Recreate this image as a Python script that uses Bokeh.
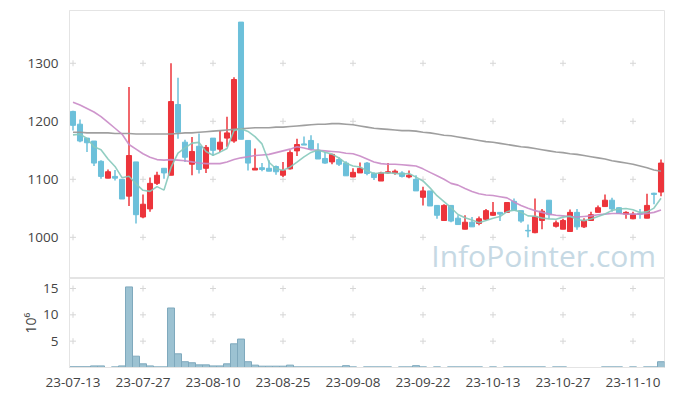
from bokeh.plotting import figure
from bokeh.layouts import column
from bokeh.models import Range1d, FixedTicker, ColumnDataSource, Label
from bokeh.embed import file_html
from bokeh.resources import INLINE

# ---- data (trading-day index 0..84) ----
opens = [1217, 1195, 1171, 1166, 1131, 1102, 1105, 1100, 1071, 1130,
         1035, 1049, 1093, 1119, 1107, 1229, 1164, 1126, 1157, 1119,
         1171, 1152, 1171, 1166, 1371, 1167, 1116, 1120, 1119, 1122,
         1107, 1118, 1149, 1161, 1167, 1150, 1136, 1130, 1134, 1128,
         1104, 1111, 1128, 1110, 1097, 1111, 1111, 1111, 1104, 1100,
         1069, 1080, 1055, 1029, 1055, 1033, 1014, 1026, 1024, 1031,
         1038, 1043, 1043, 1062, 1046, 1012, 1008, 1029, 1064, 1019,
         1014, 1010, 1043, 1018, 1029, 1043, 1053, 1064, 1051, 1040,
         1032, 1041, 1033, 1076, 1078]
highs = [1218, 1203, 1171, 1166, 1133, 1117, 1116, 1100, 1259, 1130,
         1074, 1103, 1113, 1119, 1300, 1275, 1168, 1173, 1179, 1159,
         1171, 1184, 1208, 1276, 1371, 1167, 1153, 1128, 1133, 1124,
         1130, 1150, 1170, 1174, 1176, 1162, 1147, 1144, 1138, 1131,
         1119, 1129, 1130, 1112, 1113, 1128, 1117, 1114, 1115, 1107,
         1087, 1080, 1055, 1057, 1055, 1038, 1038, 1035, 1036, 1049,
         1061, 1043, 1061, 1067, 1046, 1022, 1067, 1049, 1064, 1029,
         1032, 1048, 1049, 1033, 1044, 1055, 1074, 1068, 1052, 1045,
         1044, 1049, 1075, 1077, 1134]
lows = [1184, 1164, 1147, 1123, 1101, 1102, 1098, 1066, 1054, 1024,
        1033, 1044, 1090, 1101, 1107, 1170, 1130, 1107, 1110, 1111,
        1140, 1147, 1156, 1163, 1169, 1115, 1116, 1114, 1114, 1108,
        1104, 1117, 1140, 1159, 1150, 1135, 1127, 1126, 1123, 1106,
        1104, 1111, 1107, 1099, 1097, 1110, 1108, 1103, 1102, 1080,
        1055, 1054, 1032, 1029, 1026, 1022, 1014, 1018, 1021, 1029,
        1037, 1028, 1042, 1046, 1025, 1000, 1007, 1014, 1032, 1017,
        1014, 1010, 1013, 1016, 1029, 1043, 1053, 1044, 1041, 1032,
        1031, 1032, 1033, 1057, 1071]
closes = [1193, 1166, 1163, 1128, 1105, 1113, 1102, 1066, 1141, 1039,
          1057, 1093, 1107, 1111, 1234, 1181, 1138, 1148, 1117, 1155,
          1150, 1164, 1180, 1272, 1169, 1128, 1119, 1117, 1114, 1113,
          1115, 1146, 1160, 1159, 1152, 1135, 1128, 1143, 1126, 1106,
          1112, 1119, 1110, 1103, 1111, 1113, 1114, 1105, 1107, 1080,
          1080, 1054, 1038, 1055, 1028, 1022, 1026, 1018, 1032, 1046,
          1043, 1040, 1060, 1046, 1028, 1011, 1036, 1045, 1039, 1025,
          1029, 1043, 1018, 1029, 1039, 1051, 1064, 1049, 1041, 1043,
          1040, 1040, 1055, 1074, 1128]
pre_closes = [1160, 1200, 1200, 1130]   # closes of the 4 sessions before the window
volume_m = [0.15, 0.15, 0.15, 0.3, 0.3, 0, 0.12, 0.3, 15.3, 2.15,
            0.7, 0.3, 0.12, 0.12, 11.3, 2.6, 1.1, 0.9, 0.5, 0.5,
            0.3, 0.3, 0.7, 4.5, 5.4, 1.1, 0.45, 0.25, 0.25, 0.25,
            0.25, 0.45, 0.12, 0.12, 0.12, 0.12, 0.12, 0.12, 0.12, 0.35,
            0.12, 0, 0.12, 0.12, 0.12, 0.12, 0, 0.12, 0.12, 0.35,
            0.12, 0, 0.12, 0, 0.12, 0.12, 0.12, 0.12, 0.12, 0,
            0.12, 0, 0.12, 0.12, 0.12, 0.12, 0.12, 0.12, 0, 0.12,
            0.12, 0, 0, 0, 0, 0, 0.12, 0.12, 0.12, 0,
            0.12, 0, 0.12, 0.12, 1.1]
ma20 = [1233, 1228, 1222, 1216, 1208, 1198, 1188, 1178, 1160, 1152,
        1144, 1138, 1134, 1133, 1134, 1133, 1132, 1130, 1128, 1127,
        1127, 1127, 1130, 1134, 1137, 1139, 1141, 1142, 1143, 1146,
        1149, 1152, 1156, 1154, 1151, 1150, 1149, 1148, 1147, 1145,
        1144, 1140, 1135, 1130, 1127, 1126, 1126, 1125, 1124, 1123,
        1118, 1112, 1106, 1100, 1093, 1090, 1084, 1079, 1075, 1073,
        1072, 1070, 1068, 1061, 1055, 1050, 1046, 1043, 1040, 1038,
        1037, 1036, 1035, 1036, 1037, 1039, 1040, 1041, 1041, 1040,
        1040, 1040, 1041, 1043, 1047]
ma60 = [1181, 1181, 1180, 1180, 1180, 1180, 1179, 1179, 1179, 1178,
        1178, 1178, 1178, 1178, 1178, 1179, 1180, 1180, 1181, 1182,
        1183, 1184, 1185, 1186, 1187, 1188, 1189, 1189, 1189, 1190,
        1190, 1191, 1192, 1193, 1194, 1195, 1195, 1196, 1196, 1195,
        1194, 1192, 1190, 1188, 1187, 1186, 1185, 1184, 1184, 1183,
        1181, 1180, 1178, 1176, 1175, 1173, 1171, 1169, 1167, 1165,
        1164, 1162, 1160, 1158, 1156, 1155, 1153, 1151, 1149, 1147,
        1146, 1144, 1143, 1141, 1139, 1137, 1135, 1132, 1130, 1128,
        1126, 1123, 1120, 1116, 1114]
tick_pos = [0, 10, 20, 30, 40, 50, 60, 70, 80]
tick_labels = ["23-07-13", "23-07-27", "23-08-10", "23-08-25", "23-09-08",
               "23-09-22", "23-10-13", "23-10-27", "23-11-10"]
price_ticks = [1000, 1100, 1200, 1300]
vol_ticks = [5, 10, 15]

UP = "#ec343b"
DOWN = "#6cc0da"
FONT = "Open Sans"
LABEL_COLOR = "#444444"
BORDER = "#e4e4e4"
CROSS = "#d6d6d6"

n = len(closes)
idx = list(range(n))
colors = [UP if c >= o else DOWN for o, c in zip(opens, closes)]
series = pre_closes + closes
ma5 = [sum(series[i:i + 5]) / 5 for i in range(n)]

src = ColumnDataSource(dict(x=idx, o=opens, h=highs, l=lows, c=closes,
                            top=[max(a, b) for a, b in zip(opens, closes)],
                            bot=[min(a, b) for a, b in zip(opens, closes)],
                            color=colors, ma5=ma5, ma20=ma20, ma60=ma60))

xr = Range1d(-0.5, n - 0.5)

p = figure(width=665, height=278, x_range=xr, y_range=Range1d(929, 1391),
           output_backend="svg", toolbar_location=None,
           min_border_left=69, min_border_right=1, min_border_top=10, min_border_bottom=0)
p.xaxis.visible = False
p.grid.visible = False
p.outline_line_color = BORDER
p.yaxis.ticker = FixedTicker(ticks=price_ticks)
p.yaxis.major_tick_line_color = None
p.yaxis.minor_tick_line_color = None
p.yaxis.axis_line_color = BORDER
p.yaxis.major_label_text_font = FONT
p.yaxis.major_label_text_font_size = "13.5px"
p.yaxis.major_label_text_color = LABEL_COLOR
p.yaxis.major_label_standoff = 5

gx = [t for t in tick_pos for _ in price_ticks]
gy = [v for _ in tick_pos for v in price_ticks]
p.scatter(gx, gy, marker="cross", size=6, line_color=CROSS, line_width=1)

wm = Label(x=83.3, y=968, text="InfoPointer.com", text_align="right",
           text_baseline="middle", text_font="Open Sans", text_font_size="30px",
           text_color="#c6d9e4")
p.add_layout(wm)

p.segment(x0="x", y0="l", x1="x", y1="h", source=src, line_color="color", line_width=1.5)
p.vbar(x="x", top="top", bottom="bot", width=0.72, source=src,
       fill_color="color", line_color="color", line_width=1)

p.line("x", "ma60", source=src, line_color="#9a9a9a", line_width=1.6, line_alpha=0.95)
p.line("x", "ma20", source=src, line_color="#c98ac6", line_width=1.6, line_alpha=0.9)
p.line("x", "ma5", source=src, line_color="#86c9bb", line_width=1.6, line_alpha=0.9)

vi = [i for i in idx if volume_m[i] > 0]
vsrc = ColumnDataSource(dict(x=vi, v=[volume_m[i] for i in vi]))

q = figure(width=665, height=114, x_range=xr, y_range=Range1d(0, 16.9),
           output_backend="svg", toolbar_location=None,
           min_border_left=69, min_border_right=1, min_border_top=0, min_border_bottom=25)
q.grid.visible = False
q.outline_line_color = BORDER
q.xaxis.ticker = FixedTicker(ticks=tick_pos)
q.xaxis.major_label_overrides = {t: s for t, s in zip(tick_pos, tick_labels)}
q.yaxis.ticker = FixedTicker(ticks=vol_ticks)
for ax in (q.xaxis, q.yaxis):
    ax.major_tick_line_color = None
    ax.minor_tick_line_color = None
    ax.axis_line_color = BORDER
    ax.major_label_text_font = FONT
    ax.major_label_text_font_size = "13.5px"
    ax.major_label_text_color = LABEL_COLOR
q.xaxis.major_label_standoff = 4
q.yaxis.major_label_standoff = 5
q.yaxis.axis_label = "10⁶"
q.yaxis.axis_label_text_font = FONT
q.yaxis.axis_label_text_font_size = "14px"
q.yaxis.axis_label_text_font_style = "normal"
q.yaxis.axis_label_text_color = LABEL_COLOR
q.yaxis.axis_label_standoff = 0

qx = [t for t in tick_pos for _ in vol_ticks]
qy = [v for _ in tick_pos for v in vol_ticks]
q.scatter(qx, qy, marker="cross", size=6, line_color=CROSS, line_width=1)
q.vbar(x="x", top="v", bottom=0, width=1.0, source=vsrc,
       fill_color="#9cc2d2", line_color="#7fa9bd", line_width=1)

layout = column(p, q, spacing=0)
open("out.html", "w").write(file_html(layout, INLINE))
